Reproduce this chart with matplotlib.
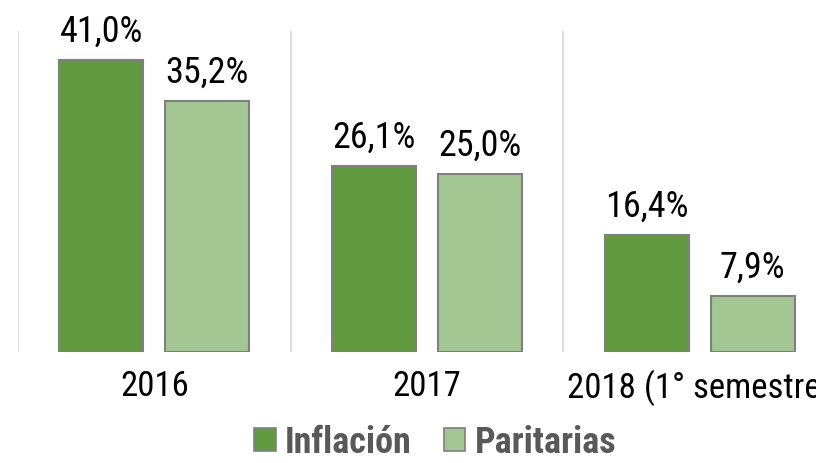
import matplotlib
matplotlib.use("Agg")
import matplotlib.pyplot as plt
from matplotlib.patches import Patch
import numpy as np

categories = ["2016", "2017", "2018 (1° semestre)"]
inflacion = [41.0, 26.1, 16.4]
paritarias = [35.2, 25.0, 7.9]
series_names = ["Inflación", "Paritarias"]

dark = "#629A3F"
light = "#A3C693"
edge = "#808080"

plt.rcParams['font.family'] = ['Roboto Condensed', 'Roboto', 'DejaVu Sans']

fig = plt.figure(figsize=(8.16, 4.64), dpi=100)
ax = fig.add_axes([18 / 816, 111 / 464, 818 / 816, 321 / 464])

x = np.arange(len(categories))
w = 0.308
off = 0.194
b1 = ax.bar(x - off, inflacion, w, color=dark, edgecolor=edge, linewidth=1.5)
b2 = ax.bar(x + off, paritarias, w, color=light, edgecolor=edge, linewidth=1.5)

for bars, vals in ((b1, inflacion), (b2, paritarias)):
    for r, v in zip(bars, vals):
        ax.annotate(f"{v:.1f}%".replace(".", ","),
                    (r.get_x() + r.get_width() / 2, r.get_height()),
                    xytext=(0, 8), textcoords="offset points",
                    ha="center", va="bottom", fontsize=26, color="black")

for s in np.arange(-0.5, len(categories), 1.0):
    ax.axvline(s, color="#D9D9D9", lw=1.2, zorder=0)

ax.set_xlim(-0.5, 2.5)
ax.set_ylim(0, 45)
ax.set_xticks(x)
ax.set_xticklabels(categories, fontsize=25)
ax.tick_params(axis="x", length=0, pad=12)
ax.set_yticks([])
for sp in ax.spines.values():
    sp.set_visible(False)

handles = [Patch(facecolor=dark, edgecolor=edge, lw=1.2),
           Patch(facecolor=light, edgecolor=edge, lw=1.2)]
leg = fig.legend(handles, series_names, loc="center", bbox_to_anchor=(435 / 816, 21 / 464),
                 ncol=2, frameon=False, handlelength=0.6, handleheight=0.6,
                 handletextpad=0.25, columnspacing=0.9, borderpad=0,
                 prop={"size": 26, "weight": "bold"})
for t in leg.get_texts():
    t.set_color("#595959")

fig.savefig("out.png", dpi=100)
